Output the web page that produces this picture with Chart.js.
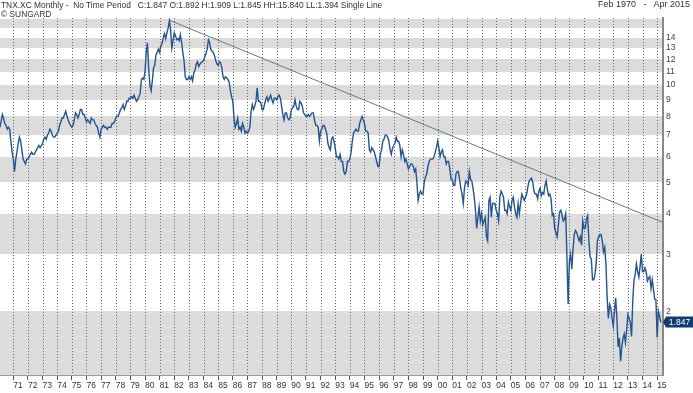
<!DOCTYPE html>
<html>
<head>
<meta charset="utf-8">
<script src="https://cdn.jsdelivr.net/npm/chart.js@4.4.0/dist/chart.umd.min.js"></script>
<style>
  body { margin: 0; background: #fff; }
  .wrap { position: relative; width: 693px; height: 393px; font-family: "Liberation Sans", Arial, sans-serif; }
  .hdr { position: absolute; font-size: 8.4px; line-height: 9px; color: #333; white-space: pre; }
</style>
</head>
<body>
<div class="wrap">
  <canvas id="tnx"></canvas>
  <div class="hdr" style="left:1px;top:1px">TNX.XC Monthly -  No Time Period   C:1.847 O:1.892 H:1.909 L:1.845 HH:15.840 LL:1.394 Single Line</div>
  <div class="hdr" style="left:1px;top:10px">© SUNGARD</div>
  <div class="hdr" style="right:3px;top:0px;font-size:9px">Feb 1970   -   Apr 2015</div>
</div>
<script>
// monthly closes, first one is Feb 1970
const firstYear = 1970
const firstMonth = 2
const yields = [
  7.4, 7.7, 8.1, 7.9, 7.6, 7.5, 7.3, 7.4, 7.3, 6.7, 6.2,
  5.9, 5.4, 5.9, 6.2, 6.6, 6.9, 6.7, 6.3, 5.9, 5.8, 5.7, 5.9,
  5.9, 6.0, 6.1, 6.2, 6.1, 6.1, 6.2, 6.3, 6.4, 6.5, 6.4, 6.5,
  6.6, 6.8, 6.9, 6.8, 7.0, 7.1, 7.3, 7.2, 7.0, 6.9, 6.9, 7.0,
  7.1, 7.2, 7.5, 7.7, 7.9, 7.9, 8.1, 8.3, 8.0, 7.8, 7.6, 7.5,
  7.4, 7.5, 7.8, 8.2, 8.1, 7.9, 8.1, 8.4, 8.4, 8.1, 8.1, 7.9,
  7.7, 7.8, 7.7, 7.6, 7.9, 7.8, 7.8, 7.6, 7.5, 7.4, 7.1, 6.9,
  7.3, 7.4, 7.5, 7.4, 7.4, 7.3, 7.4, 7.4, 7.4, 7.6, 7.6, 7.7,
  7.9, 8.0, 8.0, 8.2, 8.4, 8.5, 8.7, 8.4, 8.6, 8.9, 8.9, 9.1,
  9.1, 9.2, 9.1, 9.3, 9.1, 8.9, 9.0, 9.2, 9.4, 10.4, 10.5, 10.4,
  11.0, 12.6, 13.5, 11.2, 10.0, 9.6, 10.3, 11.3, 11.5, 12.4, 12.6, 12.9,
  12.6, 13.2, 13.4, 14.0, 14.4, 13.9, 14.5, 15.0, 15.8, 14.8, 13.0, 13.7,
  14.5, 14.2, 13.8, 13.9, 13.7, 14.3, 13.5, 12.6, 11.9, 10.6, 10.4, 10.4,
  10.6, 10.4, 10.6, 10.3, 10.9, 11.1, 11.6, 11.8, 11.4, 11.6, 11.7, 11.8,
  11.9, 12.2, 12.5, 12.9, 13.8, 13.5, 12.9, 12.7, 12.6, 12.3, 11.9, 11.6,
  11.5, 11.8, 11.7, 11.3, 10.6, 10.4, 10.6, 10.5, 10.4, 10.2, 9.6, 9.2,
  8.9, 7.9, 7.4, 7.6, 7.9, 7.3, 7.4, 7.2, 7.6, 7.4, 7.1, 7.2,
  7.1, 7.2, 7.4, 8.3, 8.7, 8.4, 8.6, 8.9, 9.8, 8.9, 8.9, 8.8,
  8.4, 8.4, 8.7, 9.0, 9.2, 8.9, 9.1, 9.3, 9.0, 8.8, 9.1, 9.1,
  9.0, 9.2, 9.3, 9.1, 8.6, 8.1, 7.8, 8.2, 8.2, 7.9, 7.8, 7.9,
  8.4, 8.5, 8.6, 9.0, 8.6, 8.4, 8.4, 8.9, 8.8, 8.6, 8.2, 8.1,
  8.0, 8.0, 8.1, 8.0, 8.1, 8.2, 8.2, 7.8, 7.5, 7.5, 7.4, 6.7,
  7.2, 7.3, 7.5, 7.5, 7.3, 7.1, 6.6, 6.4, 6.3, 6.8, 6.9, 6.7,
  6.4, 6.0, 6.0, 5.9, 6.1, 5.8, 5.8, 5.4, 5.3, 5.4, 5.8, 5.8,
  5.9, 6.2, 6.7, 7.1, 7.2, 7.3, 7.2, 7.2, 7.6, 7.8, 8.0, 7.8,
  7.6, 7.2, 7.2, 7.1, 6.3, 6.2, 6.4, 6.3, 6.2, 6.0, 5.8, 5.6,
  5.6, 6.1, 6.3, 6.7, 6.8, 7.0, 7.0, 6.9, 6.7, 6.3, 6.1, 6.4,
  6.5, 6.6, 6.9, 6.7, 6.7, 6.5, 6.0, 6.3, 6.1, 5.8, 5.9, 5.7,
  5.5, 5.6, 5.7, 5.7, 5.6, 5.4, 5.5, 5.0, 4.4, 4.6, 4.7, 4.6,
  4.6, 5.0, 5.2, 5.3, 5.6, 5.8, 5.9, 5.9, 5.9, 6.0, 6.2, 6.4,
  6.7, 6.4, 6.0, 6.2, 6.3, 6.0, 6.0, 5.7, 5.8, 5.8, 5.5, 5.1,
  5.1, 4.9, 4.9, 5.3, 5.4, 5.4, 5.1, 4.8, 4.6, 4.3, 4.8, 5.05,
  5.0, 4.9, 5.4, 5.1, 5.05, 4.8, 4.5, 4.1, 3.6, 3.9, 4.2, 3.8,
  4.0, 3.7, 3.8, 3.9, 3.4, 3.3, 4.4, 4.5, 3.9, 4.3, 4.3, 4.3,
  4.1, 4.0, 3.8, 4.5, 4.7, 4.6, 4.5, 4.1, 4.1, 4.0, 4.35, 4.2,
  4.1, 4.4, 4.5, 4.2, 4.0, 3.9, 4.3, 4.0, 4.3, 4.6, 4.5, 4.4,
  4.5, 4.6, 4.85, 5.05, 5.1, 5.15, 5.0, 4.7, 4.6, 4.6, 4.45, 4.7,
  4.8, 4.55, 4.65, 4.6, 4.9, 5.05, 4.75, 4.55, 4.6, 4.45, 3.95, 4.0,
  3.6, 3.5, 3.4, 3.7, 4.05, 4.1, 3.95, 3.8, 3.85, 4.0, 2.95, 2.1,
  2.85, 3.0, 2.7, 3.1, 3.45, 3.55, 3.5, 3.4, 3.3, 3.4, 3.2, 3.8,
  3.6, 3.6, 3.85, 3.95, 3.3, 2.95, 2.9, 2.5, 2.5, 2.6, 2.8, 3.3,
  3.4, 3.45, 3.45, 3.3, 3.05, 3.15, 2.8, 2.2, 1.9, 2.1, 2.05, 1.9,
  1.8, 2.0, 2.2, 1.9, 1.55, 1.65, 1.4, 1.55, 1.65, 1.7, 1.6, 1.75,
  1.95, 1.9, 1.85, 1.67, 2.15, 2.5, 2.6, 2.8, 2.65, 2.55, 2.75, 3.0,
  2.65, 2.65, 2.72, 2.65, 2.48, 2.53, 2.56, 2.35, 2.5, 2.33, 2.18, 2.17,
  1.66, 2.0, 1.93, 1.847
]
const lastValue = 1.847

// trend line from the 1981 top
const trendDates = [1981.67, 2015.4]
const trendValues = [15.84, 3.76]

const yearTicks = [1971, 1972, 1973, 1974, 1975, 1976, 1977, 1978, 1979, 1980,
  1981, 1982, 1983, 1984, 1985, 1986, 1987, 1988, 1989, 1990,
  1991, 1992, 1993, 1994, 1995, 1996, 1997, 1998, 1999, 2000,
  2001, 2002, 2003, 2004, 2005, 2006, 2007, 2008, 2009, 2010,
  2011, 2012, 2013, 2014, 2015]
const priceTicks = [2, 3, 4, 5, 6, 7, 8, 9, 10, 11, 12, 13, 14]
const bandEdges = [[16, 15], [14, 13], [12, 11], [10, 9], [8, 7], [6, 5], [4, 3], [2, 1]]

const points = yields.map((v, i) => ({ x: firstYear + (firstMonth - 1 + i) / 12, y: v }))
const trendPoints = trendDates.map((d, i) => ({ x: d, y: trendValues[i] }))

// grey bands + dotted year lines behind everything
const backdrop = {
  id: 'backdrop',
  beforeDraw(chart) {
    const { ctx, chartArea: a, scales: { x, y } } = chart
    ctx.save()
    ctx.beginPath()
    ctx.rect(a.left, a.top, a.right - a.left, a.bottom - a.top)
    ctx.clip()
    ctx.fillStyle = '#dcdcdc'
    bandEdges.forEach(([hi, lo]) => {
      const y1 = Math.round(y.getPixelForValue(hi))
      const y2 = Math.round(y.getPixelForValue(lo))
      ctx.fillRect(a.left, y1, a.right - a.left, y2 - y1)
    })
    ctx.strokeStyle = '#666'
    ctx.lineWidth = 1
    ctx.setLineDash([1, 2])
    yearTicks.forEach(t => {
      const px = Math.round(x.getPixelForValue(t)) + 0.5
      ctx.beginPath()
      ctx.moveTo(px, a.top)
      ctx.lineTo(px, a.bottom)
      ctx.stroke()
    })
    ctx.restore()
  }
}

// last value tag on the right axis
const lastTag = {
  id: 'lastTag',
  afterDraw(chart) {
    const { ctx, chartArea: a, scales: { y } } = chart
    const py = Math.round(y.getPixelForValue(lastValue))
    const left = a.right + 3, w = 27, h = 11
    ctx.save()
    ctx.fillStyle = '#0f3d72'
    ctx.beginPath()
    ctx.moveTo(a.right, py)
    ctx.lineTo(left, py - h / 2)
    ctx.lineTo(left + w, py - h / 2)
    ctx.lineTo(left + w, py + h / 2)
    ctx.lineTo(left, py + h / 2)
    ctx.closePath()
    ctx.fill()
    ctx.fillStyle = '#fff'
    ctx.font = '8.5px "Liberation Sans"'
    ctx.textAlign = 'center'
    ctx.textBaseline = 'middle'
    ctx.fillText(lastValue.toFixed(3), left + w / 2, py + 0.5)
    ctx.restore()
  }
}

new Chart(document.getElementById('tnx'), {
  type: 'line',
  data: {
    datasets: [
      { label: 'TNX.XC', data: points, borderColor: '#24548f', borderWidth: 1.4, pointRadius: 0, tension: 0 },
      { label: 'Trend', data: trendPoints, borderColor: '#6a7b78', borderWidth: 1, pointRadius: 0 }
    ]
  },
  options: {
    responsive: true,
    maintainAspectRatio: false,
    animation: false,
    layout: { padding: { top: 18, left: 0, right: 0, bottom: 0 } },
    plugins: { legend: { display: false }, tooltip: { enabled: false } },
    scales: {
      x: {
        type: 'linear',
        min: 1970.09,
        max: 2015.4,
        afterFit: s => { s.height = 18 },
        afterBuildTicks: s => { s.ticks = yearTicks.map(v => ({ value: v })) },
        grid: { drawOnChartArea: false, drawTicks: true, tickLength: 5, tickColor: '#555' },
        border: { color: '#999' },
        ticks: {
          align: 'start', padding: 1, maxRotation: 0, autoSkip: false, color: '#333',
          font: { family: 'Liberation Sans', size: 8.5 },
          callback: v => String(v % 100).padStart(2, '0')
        }
      },
      y: {
        type: 'logarithmic',
        position: 'right',
        min: 1.27,
        max: 16.1,
        afterFit: s => { s.width = 30 },
        afterBuildTicks: s => { s.ticks = priceTicks.map(v => ({ value: v })) },
        grid: { display: false, drawTicks: false },
        border: { color: '#888', width: 2 },
        ticks: {
          padding: 3, color: '#3b3b63',
          font: { family: 'Liberation Sans', size: 8.5 },
          callback: v => String(v)
        }
      }
    }
  },
  plugins: [backdrop, lastTag]
})
</script>
</body>
</html>
